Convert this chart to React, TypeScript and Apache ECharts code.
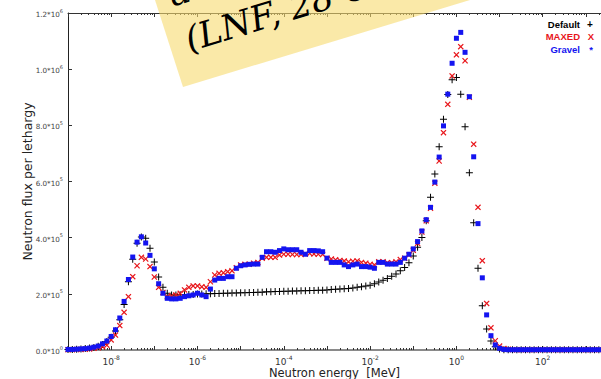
import React, { useEffect, useRef } from "react";
import * as echarts from "echarts";

// log10 of neutron energy in MeV (10 bins per decade)
const LOG10_ENERGY_MEV = [
  -9.0, -8.9, -8.8, -8.7, -8.6, -8.5, -8.4, -8.3, -8.2, -8.1,
  -8.0, -7.9, -7.8, -7.7, -7.6, -7.5, -7.4, -7.3, -7.2, -7.1,
  -7.0, -6.9, -6.8, -6.7, -6.6, -6.5, -6.4, -6.3, -6.2, -6.1,
  -6.0, -5.9, -5.8, -5.7, -5.6, -5.5, -5.4, -5.3, -5.2, -5.1,
  -5.0, -4.9, -4.8, -4.7, -4.6, -4.5, -4.4, -4.3, -4.2, -4.1,
  -4.0, -3.9, -3.8, -3.7, -3.6, -3.5, -3.4, -3.3, -3.2, -3.1,
  -3.0, -2.9, -2.8, -2.7, -2.6, -2.5, -2.4, -2.3, -2.2, -2.1,
  -2.0, -1.9, -1.8, -1.7, -1.6, -1.5, -1.4, -1.3, -1.2, -1.1,
  -1.0, -0.9, -0.8, -0.7, -0.6, -0.5, -0.4, -0.3, -0.2, -0.1,
  0.0, 0.1, 0.2, 0.3, 0.4, 0.5, 0.6, 0.7, 0.8, 0.9,
  1.0, 1.1, 1.2, 1.3, 1.4, 1.5, 1.6, 1.7, 1.8, 1.9,
  2.0, 2.1, 2.2, 2.3, 2.4, 2.5, 2.6, 2.7, 2.8, 2.9,
  3.0, 3.1, 3.2, 3.3,
];

// flux per lethargy, in units of 1e5
const DEFAULT_FLUX = [
  0.02, 0.02, 0.03, 0.04, 0.05, 0.07, 0.09, 0.13, 0.20, 0.30,
  0.45, 0.68, 1.08, 1.62, 2.43, 3.23, 3.80, 4.02, 3.98, 3.62,
  3.13, 2.60, 2.23, 2.02, 1.96, 1.96, 1.97, 1.97, 1.98, 1.98,
  1.99, 1.99, 2.00, 2.00, 2.01, 2.01, 2.02, 2.02, 2.03, 2.03,
  2.04, 2.04, 2.05, 2.05, 2.06, 2.06, 2.07, 2.07, 2.08, 2.08,
  2.09, 2.09, 2.10, 2.10, 2.11, 2.11, 2.12, 2.12, 2.13, 2.13,
  2.14, 2.15, 2.16, 2.17, 2.18, 2.19, 2.21, 2.23, 2.25, 2.28,
  2.31, 2.36, 2.42, 2.48, 2.55, 2.63, 2.71, 2.82, 2.94, 3.11,
  3.35, 3.66, 4.01, 4.60, 5.44, 6.27, 7.24, 8.22, 9.10, 9.62,
  9.70, 9.11, 7.95, 6.31, 4.53, 2.91, 1.58, 0.75, 0.32, 0.12,
  0.04, 0.01, 0.005, 0.005, 0.005, 0.005, 0.005, 0.005, 0.005, 0.005,
  0.005, 0.005, 0.005, 0.005, 0.005, 0.005, 0.005, 0.005, 0.005, 0.005,
  0.005, 0.005, 0.005, 0.005,
];

const MAXED_FLUX = [
  0.01, 0.01, 0.02, 0.02, 0.03, 0.04, 0.06, 0.08, 0.12, 0.17,
  0.36, 0.53, 0.87, 1.34, 1.90, 2.61, 3.00, 3.30, 3.24, 2.97,
  2.60, 2.23, 2.05, 1.90, 1.93, 1.96, 2.02, 2.14, 2.23, 2.28,
  2.28, 2.25, 2.23, 2.43, 2.67, 2.73, 2.75, 2.79, 2.82, 2.93,
  3.03, 3.05, 3.05, 3.09, 3.12, 3.27, 3.30, 3.30, 3.30, 3.38,
  3.41, 3.41, 3.40, 3.40, 3.40, 3.42, 3.44, 3.42, 3.41, 3.40,
  3.27, 3.24, 3.21, 3.19, 3.17, 3.14, 3.16, 3.17, 3.12, 3.09,
  3.05, 3.03, 3.14, 3.14, 3.11, 3.11, 3.14, 3.22, 3.27, 3.38,
  3.55, 3.80, 4.20, 4.60, 5.05, 5.94, 6.73, 7.74, 8.75, 9.76,
  10.51, 10.80, 10.30, 9.00, 7.33, 5.08, 3.18, 1.66, 0.79, 0.33,
  0.14, 0.05, 0.03, 0.01, 0.01, 0.01, 0.01, 0.01, 0.01, 0.01,
  0.01, 0.01, 0.01, 0.01, 0.01, 0.01, 0.01, 0.01, 0.01, 0.01,
  0.01, 0.01, 0.01, 0.01,
];

const GRAVEL_FLUX = [
  0.02, 0.02, 0.03, 0.04, 0.05, 0.07, 0.10, 0.14, 0.22, 0.32,
  0.48, 0.72, 1.14, 1.73, 2.51, 3.31, 3.84, 4.03, 3.81, 3.37,
  2.89, 2.36, 2.02, 1.84, 1.82, 1.82, 1.84, 1.90, 1.93, 1.96,
  2.02, 1.96, 1.90, 2.17, 2.49, 2.55, 2.55, 2.61, 2.61, 2.91,
  3.00, 3.03, 3.05, 3.06, 3.06, 3.30, 3.50, 3.50, 3.48, 3.54,
  3.60, 3.57, 3.57, 3.57, 3.48, 3.41, 3.54, 3.54, 3.53, 3.50,
  3.27, 3.12, 3.12, 3.12, 3.03, 2.97, 3.03, 3.06, 2.97, 2.97,
  2.95, 2.91, 3.12, 3.12, 3.06, 3.06, 3.06, 3.12, 3.27, 3.41,
  3.60, 3.86, 4.24, 4.64, 5.08, 5.98, 6.87, 7.98, 9.11, 10.21,
  11.10, 11.31, 10.60, 9.02, 6.88, 4.50, 2.57, 1.25, 0.51, 0.18,
  0.06, 0.02, 0.01, 0.01, 0.01, 0.01, 0.01, 0.01, 0.01, 0.01,
  0.01, 0.01, 0.01, 0.01, 0.01, 0.01, 0.01, 0.01, 0.01, 0.01,
  0.01, 0.01, 0.01, 0.01,
];

const X_LABEL_EXPONENTS = [-8, -6, -4, -2, 0, 2];
const X_DECADES = [-9, -8, -7, -6, -5, -4, -3, -2, -1, 0, 1, 2, 3];
const Y_TICKS = [0, 2, 4, 6, 8, 10, 12];

const X_MIN = -9;
const X_MAX = 3.35;

const C_DEFAULT = "#000000";
const C_MAXED = "#e8161b";
const C_GRAVEL = "#1414f0";

const PLUS = "path://M3,0H4V3H7V4H4V7H3V4H0V3H3Z";
const CROSS =
  "path://M0,1L1,0L3.5,2.5L6,0L7,1L4.5,3.5L7,6L6,7L3.5,4.5L1,7L0,6L2.5,3.5Z";

const FONT = '"DejaVu Sans", sans-serif';

function minorTicks(): number[] {
  const out: number[] = [];
  for (const d of X_DECADES) {
    for (let k = 2; k <= 9; k++) {
      const v = d + Math.log10(k);
      if (v > X_MIN && v < X_MAX) out.push(v);
    }
  }
  return out;
}

function yLabel(v: number): string {
  const real = v * 1e5;
  if (real === 0) return "{b|0.0*10}{s|0}";
  const e = Math.floor(Math.log10(real) + 1e-9);
  const m = real / Math.pow(10, e);
  return `{b|${m.toFixed(1)}*10}{s|${e}}`;
}

export default function App() {
  const ref = useRef<HTMLDivElement>(null);

  useEffect(() => {
    if (!ref.current) return;
    const chart = echarts.init(ref.current, undefined, { renderer: "svg" });
    const minor = minorTicks();
    const rot = (17 * Math.PI) / 180;

    const baseX = {
      type: "value",
      min: X_MIN,
      max: X_MAX,
      splitLine: { show: false },
      axisLabel: { show: false },
    };

    const legendFont = 'bold 9.5px "Liberation Sans", sans-serif';
    const bannerFont = 'italic 35px "DejaVu Serif", serif';

    const option: any = {
      animation: false,
      grid: { left: 68, top: 13, right: 0, bottom: 29, containLabel: false, outerBoundsMode: "none" },
      xAxis: [
        {
          ...baseX,
          position: "bottom",
          axisLine: { show: true, onZero: false, lineStyle: { color: "#8a8a8a", width: 2 } },
          axisTick: {
            show: true,
            inside: true,
            length: 4,
            customValues: X_DECADES,
            lineStyle: { color: "#333" },
          },
          axisLabel: {
            show: true,
            customValues: X_LABEL_EXPONENTS,
            margin: 4,
            formatter: (v: number) => `{b|10}{s|${Math.round(v)}}`,
            rich: {
              b: { fontSize: 9, fontFamily: FONT, color: "#333", lineHeight: 12, verticalAlign: "bottom" },
              s: { fontSize: 6, fontFamily: FONT, color: "#333", lineHeight: 7, verticalAlign: "top" },
            },
          },
          name: "Neutron energy  [MeV]",
          nameLocation: "middle",
          nameGap: 17,
          nameMoveOverlap: false,
          nameTextStyle: { fontSize: 11.5, fontFamily: FONT, color: "#222" },
        },
        {
          ...baseX,
          position: "bottom",
          axisLine: { show: false, onZero: false },
          axisTick: {
            show: true,
            inside: true,
            length: 2,
            customValues: minor,
            lineStyle: { color: "#333" },
          },
        },
        {
          ...baseX,
          position: "top",
          axisLine: { show: true, onZero: false, lineStyle: { color: "#333", width: 1 } },
          axisTick: {
            show: true,
            inside: true,
            length: 4,
            customValues: X_DECADES,
            lineStyle: { color: "#333" },
          },
        },
        {
          ...baseX,
          position: "top",
          axisLine: { show: false, onZero: false },
          axisTick: {
            show: true,
            inside: true,
            length: 2,
            customValues: minor,
            lineStyle: { color: "#333" },
          },
        },
      ],
      yAxis: {
        type: "value",
        min: Y_TICKS[0],
        max: Y_TICKS[Y_TICKS.length - 1],
        interval: 2,
        splitLine: { show: false },
        axisLine: { show: true, onZero: false, lineStyle: { color: "#222", width: 1 } },
        axisTick: { show: true, inside: true, length: 4, lineStyle: { color: "#333" } },
        axisLabel: {
          margin: 5,
          formatter: yLabel,
          rich: {
            b: { fontSize: 7.2, fontFamily: FONT, color: "#444", lineHeight: 10, verticalAlign: "bottom" },
            s: { fontSize: 5, fontFamily: FONT, color: "#444", lineHeight: 5, verticalAlign: "top" },
          },
        },
        name: "Neutron flux per lethargy",
        nameLocation: "middle",
        nameGap: 34,
        nameMoveOverlap: false,
        nameTextStyle: { fontSize: 12.5, fontFamily: FONT, color: "#222" },
      },
      series: [
        {
          name: "Default",
          type: "scatter",
          xAxisIndex: 0,
          symbol: PLUS,
          symbolSize: 7,
          itemStyle: { color: C_DEFAULT, opacity: 1 },
          data: LOG10_ENERGY_MEV.map((x, i) => [x, DEFAULT_FLUX[i]]),
          z: 2,
        },
        {
          name: "MAXED",
          type: "scatter",
          xAxisIndex: 0,
          symbol: CROSS,
          symbolSize: 6,
          itemStyle: { color: C_MAXED, opacity: 1 },
          data: LOG10_ENERGY_MEV.map((x, i) => [x, MAXED_FLUX[i]]),
          z: 3,
        },
        {
          name: "Gravel",
          type: "scatter",
          xAxisIndex: 0,
          symbol: "rect",
          symbolSize: 5,
          itemStyle: { color: C_GRAVEL, opacity: 1 },
          data: LOG10_ENERGY_MEV.map((x, i) => [x, GRAVEL_FLUX[i]]),
          z: 4,
        },
      ],
      graphic: [
        {
          type: "polygon",
          z: 100,
          shape: { points: [[155, 0], [183, 87], [470, 0]] },
          style: { fill: "rgba(247,218,110,0.6)" },
        },
        {
          type: "text",
          z: 101,
          x: 174,
          y: 12,
          rotation: rot,
          style: {
            text: "at Frascati",
            font: bannerFont,
            fill: "#000",
            align: "left",
            verticalAlign: "bottom",
          },
        },
        {
          type: "text",
          z: 101,
          x: 191,
          y: 57,
          rotation: rot,
          style: {
            text: "(LNF, 28 Oct)",
            font: bannerFont,
            fill: "#000",
            align: "left",
            verticalAlign: "bottom",
          },
        },
        {
          type: "text",
          z: 102,
          x: 580,
          y: 24,
          style: { text: "Default", align: "right", verticalAlign: "middle", font: legendFont, fill: C_DEFAULT },
        },
        {
          type: "text",
          z: 102,
          x: 590,
          y: 24,
          style: { text: "+", align: "center", verticalAlign: "middle", font: 'bold 10px "Liberation Sans", sans-serif', fill: C_DEFAULT },
        },
        {
          type: "text",
          z: 102,
          x: 580,
          y: 36,
          style: { text: "MAXED", align: "right", verticalAlign: "middle", font: legendFont, fill: C_MAXED },
        },
        {
          type: "text",
          z: 102,
          x: 591,
          y: 36,
          style: { text: "X", align: "center", verticalAlign: "middle", font: legendFont, fill: C_MAXED },
        },
        {
          type: "text",
          z: 102,
          x: 580,
          y: 49,
          style: { text: "Gravel", align: "right", verticalAlign: "middle", font: legendFont, fill: C_GRAVEL },
        },
        {
          type: "text",
          z: 102,
          x: 591,
          y: 49,
          style: { text: "*", align: "center", verticalAlign: "middle", font: legendFont, fill: C_GRAVEL },
        },
      ],
    };

    chart.setOption(option);
    return () => chart.dispose();
  }, []);

  return (
    <div
      ref={ref}
      style={{ position: "fixed", left: 0, top: 0, width: 601, height: 379, background: "#fff" }}
    />
  );
}
